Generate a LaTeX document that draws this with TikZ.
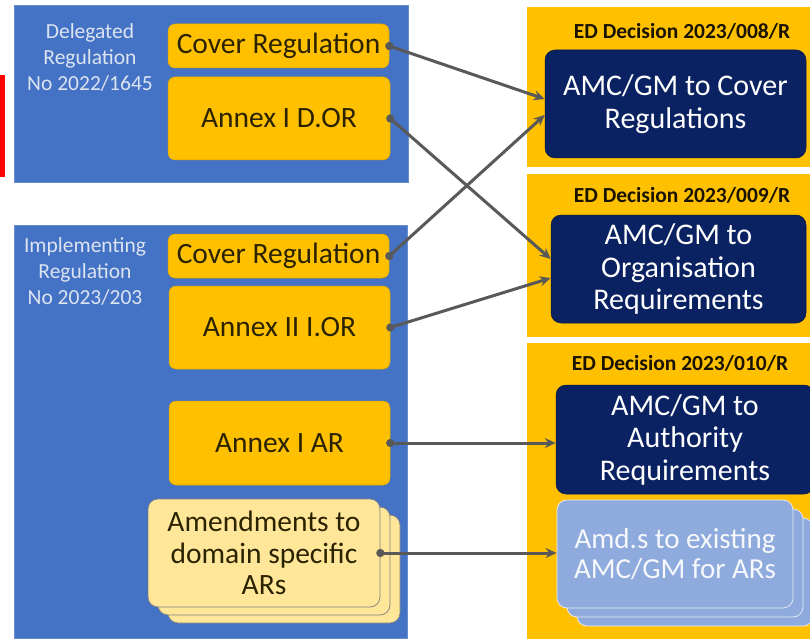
\documentclass[tikz,border=0pt]{standalone}
\usepackage{fontspec}
\setmainfont{Carlito}
\usetikzlibrary{arrows.meta,positioning,calc}
\definecolor{regblue}{HTML}{4472C4}
\definecolor{gold}{HTML}{FFC000}
\definecolor{paleyellow}{HTML}{FFE699}
\definecolor{navy}{HTML}{0A2262}
\definecolor{paleblue}{HTML}{8FAADC}
\definecolor{arrowgray}{HTML}{595959}
\definecolor{darktext}{HTML}{2B2200}
\definecolor{labeltext}{HTML}{DCE4F2}
\definecolor{redmark}{HTML}{FF0000}
\tikzset{
  regpanel/.style={draw=regblue!80!white, line width=0.6pt, fill=regblue, inner sep=0pt, anchor=north west},
  decpanel/.style={fill=gold, inner sep=0pt, anchor=north west},
  ybox/.style={draw=gold!85!black, line width=0.5pt, fill=gold, rounded corners=7pt, inner sep=0pt, text=darktext,
    font=\fontsize{29.5}{32}\selectfont, align=center},
  amendbox/.style={draw=black!50, line width=0.7pt, fill=paleyellow, rounded corners=10pt, inner sep=0pt,
    text=darktext, font=\fontsize{29.5}{31.5}\selectfont, align=center},
  navybox/.style={draw=navy!70!black, line width=0.5pt, fill=navy, rounded corners=10pt, inner sep=0pt, text=white,
    font=\fontsize{30}{32.5}\selectfont, align=center},
  amdbox/.style={draw=white!80!paleblue, line width=0.7pt, fill=paleblue, rounded corners=10pt, inner sep=0pt,
    text=white!92!paleblue, font=\fontsize{29}{30}\selectfont, align=center},
  reglabel/.style={text=labeltext, font=\fontsize{21.5}{26}\selectfont, align=center, inner sep=0pt},
  dechead/.style={text=black!90!gold, font=\bfseries\fontsize{21.5}{24}\selectfont, inner sep=0pt},
  link/.style={draw=arrowgray, line width=3pt, {Circle[length=8pt]}-{Stealth[length=11pt,width=10pt]}, shorten <=-4pt}
}
\begin{document}
\begin{tikzpicture}[x=1pt,y=-1pt]
\useasboundingbox (0,0) rectangle (810,639);
% red marker at left edge
\node[fill=redmark, inner sep=0pt, minimum width=4.5pt, minimum height=102pt, anchor=north west] (redmark) at (0,75) {};
% left regulation panels
\node[regpanel, minimum width=394pt, minimum height=177pt] (delreg) at (14,5) {};
\node[regpanel, minimum width=393pt, minimum height=413pt] (impreg) at (14,225) {};
\node[reglabel] (dellab) at (90,57) {Delegated\\Regulation\\No 2022/1645};
\node[reglabel] (implab) at (85,271) {Implementing\\Regulation\\No 2023/203};
% right decision panels
\node[decpanel, minimum width=283pt, minimum height=160pt] (dec1) at (527,7) {};
\node[decpanel, minimum width=283pt, minimum height=163pt] (dec2) at (527,174) {};
\node[decpanel, minimum width=283pt, minimum height=296pt] (dec3) at (527,343) {};
\node[dechead] (head1) at (682,31) {ED Decision 2023/008/R};
\node[dechead] (head2) at (682,195) {ED Decision 2023/009/R};
\node[dechead] (head3) at (680,363) {ED Decision 2023/010/R};
% regulation parts
\node[ybox, minimum width=221pt, minimum height=44pt] (cover1) at (278.5,46) {Cover Regulation};
\node[ybox, minimum width=222pt, minimum height=83pt] (annexdor) at (279,118.5) {Annex I D.OR};
\node[ybox, minimum width=221pt, minimum height=44pt] (cover2) at (278.5,256) {Cover Regulation};
\node[ybox, minimum width=221pt, minimum height=83pt] (annexior) at (279.5,327.5) {Annex II I.OR};
\node[ybox, minimum width=221pt, minimum height=84pt] (annexar) at (279.5,443) {Annex I AR};
\node[amendbox, minimum width=232pt, minimum height=108pt] (amendC) at (284,569) {};
\node[amendbox, minimum width=232pt, minimum height=108pt] (amendB) at (274,561) {};
\node[amendbox, minimum width=232pt, minimum height=108pt] (amend) at (264,553) {Amendments to\\domain specific\\ARs};
% AMC/GM boxes
\node[navybox, minimum width=261pt, minimum height=108pt] (amc1) at (675.5,104) {AMC/GM to Cover\\Regulations};
\node[navybox, minimum width=255pt, minimum height=108pt] (amc2) at (678.5,269) {AMC/GM to\\Organisation\\Requirements};
\node[navybox, minimum width=258pt, minimum height=109pt] (amc3) at (685,439.5) {AMC/GM to\\Authority\\Requirements};
\node[amdbox, minimum width=236pt, minimum height=108pt] (amdC) at (695,572) {};
\node[amdbox, minimum width=236pt, minimum height=108pt] (amdB) at (685,563) {};
\node[amdbox, minimum width=236pt, minimum height=108pt] (amd) at (675,554) {Amd.s to existing\\AMC/GM for ARs};
% connectors
\draw[link] (cover1.east) -- ([yshift=5pt]amc1.west);
\draw[link] (annexdor.east) -- ([yshift=10pt]amc2.west);
\draw[link] (cover2.east) -- ([yshift=-11pt]amc1.west);
\draw[link] (annexior.east) -- ([yshift=-9pt]amc2.west);
\draw[link] (annexar.east) -- (annexar.east -| amc3.west);
\draw[link] (amend.east) -- (amend.east -| amd.west);
\end{tikzpicture}
\end{document}
